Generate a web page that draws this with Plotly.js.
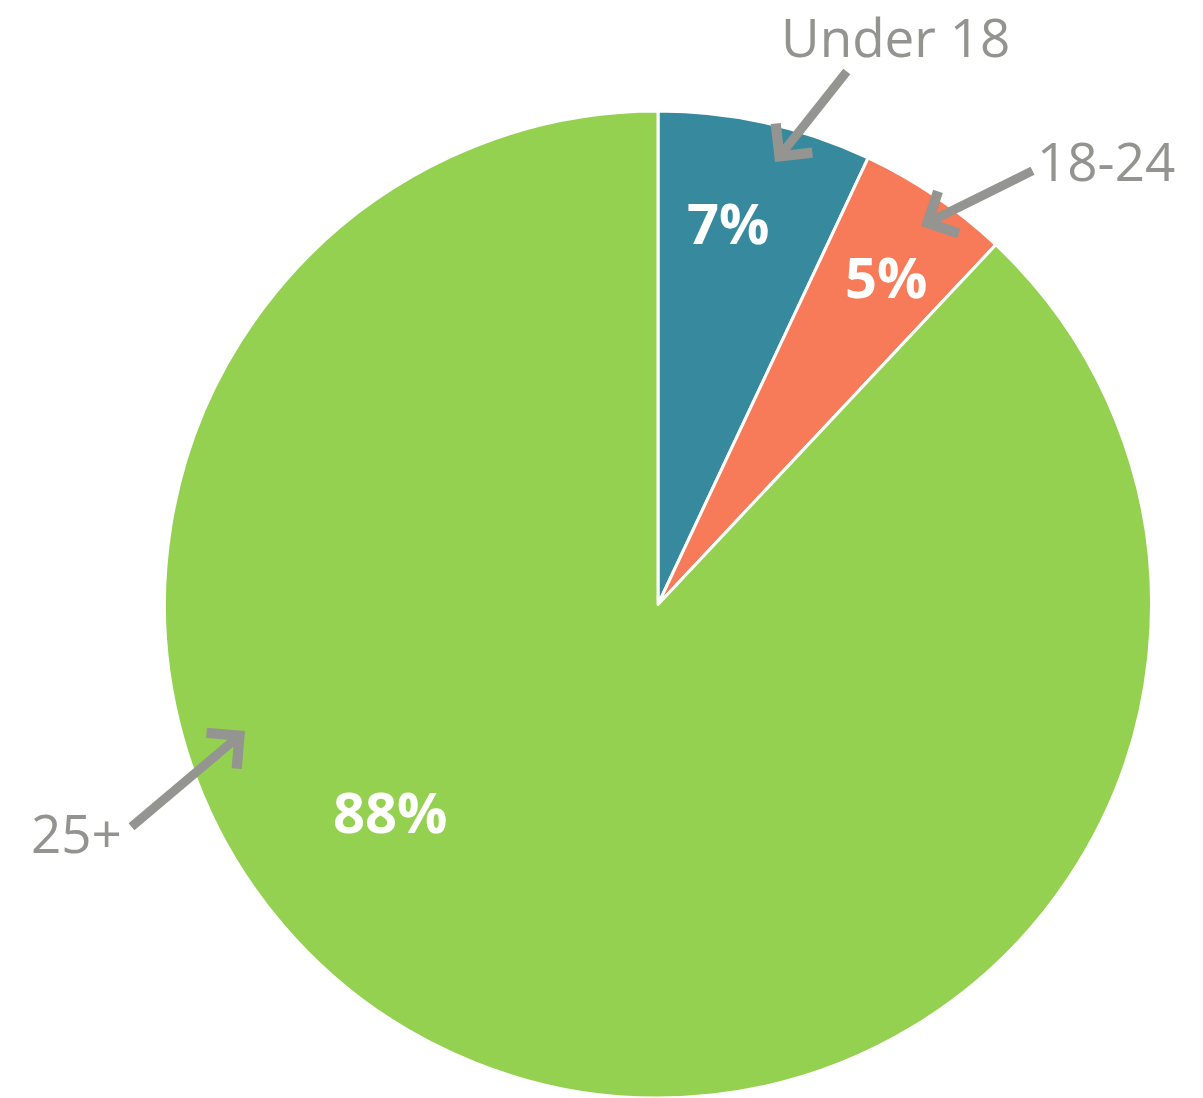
<!DOCTYPE html>
<html>
<head>
<meta charset="utf-8">
<script src="https://cdn.plot.ly/plotly-3.0.1.min.js"></script>
<style>html,body{margin:0;padding:0;background:#fff;}#chart{width:1203px;height:1098px;}</style>
</head>
<body>
<div id="chart"></div>
<script>
const categories = ["Under 18", "18-24", "25+"];
const shares = [7, 5, 88];
const sliceColors = ["#378A9E", "#F77B59", "#94D150"];

const W = 1203, H = 1098;
const px = x => x / W;
const py = y => 1 - y / H;
const labelFont = {family: "Open Sans, sans-serif", size: 53, color: "#939490"};
const pctFont = {family: "Open Sans, sans-serif", size: 56, color: "#ffffff", weight: 700};
const arrowColor = "#949490";

// positions of the outside labels and arrows (pixels)
const labelPos = [[895, 36], [1106, 160], [76, 832]];
const arrowTip = [[775, 162], [921, 226], [245, 731]];
const arrowOff = [[73, -92], [113, -56], [-115, 97]];
const pctPos = [[728, 222], [886, 276], [390, 811]];

const annotations = [];
categories.forEach((c, i) => {
  annotations.push({xref: "paper", yref: "paper", x: px(labelPos[i][0]), y: py(labelPos[i][1]),
    text: c, showarrow: false, font: labelFont, xanchor: "center", yanchor: "middle"});
  annotations.push({xref: "paper", yref: "paper", x: px(arrowTip[i][0]), y: py(arrowTip[i][1]),
    text: "", showarrow: true, ax: arrowOff[i][0], ay: arrowOff[i][1], arrowhead: 4,
    arrowsize: 1, arrowwidth: 9, arrowcolor: arrowColor, standoff: 0});
  annotations.push({xref: "paper", yref: "paper", x: px(pctPos[i][0]), y: py(pctPos[i][1]),
    text: "<b>" + shares[i] + "%</b>", showarrow: false, font: pctFont, xanchor: "center", yanchor: "middle"});
});

const cx = 658, cy = 607, r = 496;
const trace = {
  type: "pie",
  labels: categories,
  values: shares,
  sort: false,
  direction: "clockwise",
  rotation: 0,
  textinfo: "none",
  hoverinfo: "label+percent",
  marker: {colors: sliceColors, line: {color: "#ffffff", width: 3}},
  domain: {x: [px(cx - r), px(cx + r)], y: [Math.max(0, py(cy + r)), py(cy - r)]},
  showlegend: false
};

Plotly.newPlot("chart", [trace], {
  width: W, height: H,
  margin: {l: 0, r: 0, t: 0, b: 0, pad: 0},
  paper_bgcolor: "#ffffff",
  showlegend: false,
  annotations: annotations
}, {displayModeBar: false, staticPlot: true});
</script>
</body>
</html>
